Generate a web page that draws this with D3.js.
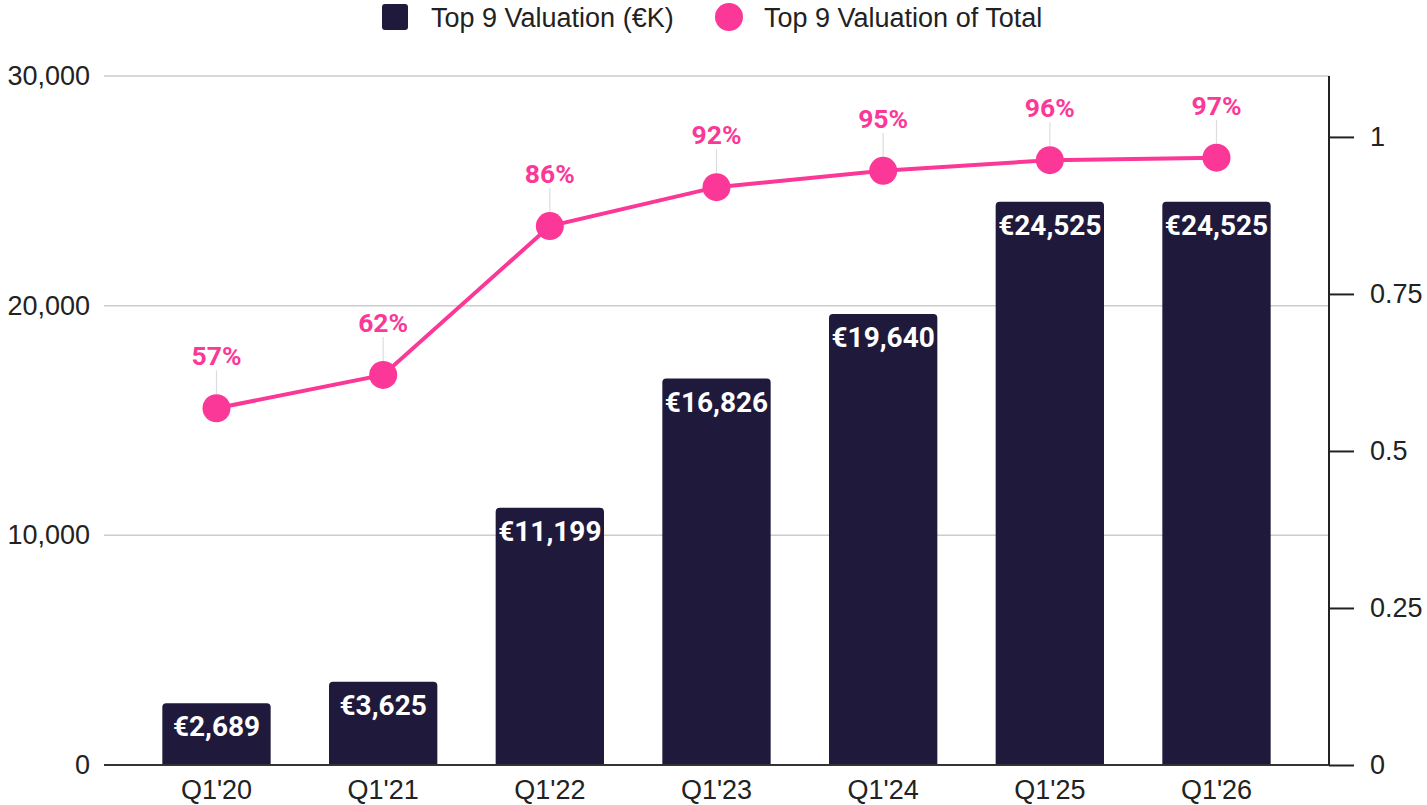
<!DOCTYPE html>
<html><head><meta charset="utf-8">
<script src="https://cdn.jsdelivr.net/npm/d3@7"></script>
<style>html,body{margin:0;padding:0;background:#fff;}svg{display:block;}</style>
</head><body>
<svg id="chart" width="1427" height="805"></svg>
<script>
const categories = ["Q1'20","Q1'21","Q1'22","Q1'23","Q1'24","Q1'25","Q1'26"];
const valuation = [2689, 3625, 11199, 16826, 19640, 24525, 24525];
const shareOfTotal = [0.568, 0.621, 0.858, 0.920, 0.946, 0.963, 0.967];
const leftTicks = [0, 10000, 20000, 30000];
const rightTicks = [0, 0.25, 0.5, 0.75, 1];
const seriesNames = ["Top 9 Valuation (€K)", "Top 9 Valuation of Total"];

const barColor = "#1f1a3b", pink = "#fb3897";
const axisFont = "'Liberation Sans', Arial, Helvetica, sans-serif";
const labelFont = "Roboto, 'Liberation Sans', Arial, sans-serif";

const svg = d3.select("#chart");
const L = 104, R = 1329, T = 76, B = 765;

const x = d3.scaleBand().domain(categories).range([L, R]).paddingInner(0.35).paddingOuter(0.35);
const y = d3.scaleLinear().domain([0, 30000]).range([B, T]);
const y2 = d3.scaleLinear().domain([0, 1.097]).range([B, T]);

// gridlines
svg.append("g").selectAll("line").data(leftTicks.filter(d => d > 0)).join("line")
  .attr("x1", L).attr("x2", R).attr("y1", d => y(d)).attr("y2", d => y(d))
  .attr("stroke", "#cccccc").attr("stroke-width", 1.5);

// left axis labels
const yAxis = d3.axisLeft(y).tickValues(leftTicks).tickFormat(d3.format(",")).tickSize(0).tickPadding(14);
const gy = svg.append("g").attr("transform", `translate(${L},0)`).call(yAxis);
gy.select(".domain").remove();
gy.selectAll("text").attr("font-family", axisFont).attr("font-size", 27).attr("fill", "#222");

// bars with rounded tops
const r = 4;
svg.append("g").selectAll("path").data(valuation).join("path")
  .attr("fill", barColor)
  .attr("d", (d, i) => {
    const x0 = x(categories[i]), w = x.bandwidth(), y0 = y(d), yb = y(0);
    return `M${x0},${yb}V${y0 + r}Q${x0},${y0} ${x0 + r},${y0}H${x0 + w - r}Q${x0 + w},${y0} ${x0 + w},${y0 + r}V${yb}Z`;
  });

// bar labels
svg.append("g").selectAll("text").data(valuation).join("text")
  .attr("x", (d, i) => x(categories[i]) + x.bandwidth() / 2)
  .attr("y", d => y(d) + 33)
  .attr("text-anchor", "middle")
  .attr("font-family", labelFont).attr("font-weight", 700).attr("font-size", 28)
  .attr("fill", "#fff")
  .text(d => "€" + d3.format(",")(d));

// baseline
svg.append("line").attr("x1", L).attr("x2", R).attr("y1", y(0)).attr("y2", y(0))
  .attr("stroke", "#333").attr("stroke-width", 2);

// right axis
const y2Axis = d3.axisRight(y2).tickValues(rightTicks).tickFormat(d => d3.format("")(d)).tickSize(25).tickPadding(16);
const gy2 = svg.append("g").attr("transform", `translate(${R},0)`).call(y2Axis);
gy2.select(".domain").attr("d", `M0,${T}V${B}`).attr("stroke", "#222").attr("stroke-width", 2);
gy2.selectAll(".tick line").attr("stroke", "#222").attr("stroke-width", 2);
gy2.selectAll("text").attr("font-family", axisFont).attr("font-size", 27).attr("fill", "#222");

// bottom axis labels
const xAxis = d3.axisBottom(x).tickSize(0).tickPadding(15);
const gx = svg.append("g").attr("transform", `translate(0,${B})`).call(xAxis);
gx.select(".domain").remove();
gx.selectAll("text").attr("font-family", axisFont).attr("font-size", 27).attr("fill", "#222");

// leader lines
const cx = (i) => x(categories[i]) + x.bandwidth() / 2;
svg.append("g").selectAll("line").data(shareOfTotal).join("line")
  .attr("x1", (d, i) => cx(i)).attr("x2", (d, i) => cx(i))
  .attr("y1", d => y2(d) - 38).attr("y2", d => y2(d) - 14)
  .attr("stroke", "#dddddd").attr("stroke-width", 1.2);

// line
const line = d3.line().x((d, i) => cx(i)).y(d => y2(d)).curve(d3.curveLinear);
svg.append("path").datum(shareOfTotal).attr("d", line)
  .attr("fill", "none").attr("stroke", pink).attr("stroke-width", 4);

svg.append("g").selectAll("circle").data(shareOfTotal).join("circle")
  .attr("cx", (d, i) => cx(i)).attr("cy", d => y2(d)).attr("r", 14)
  .attr("fill", pink);

// percent labels
svg.append("g").selectAll("text").data(shareOfTotal).join("text")
  .attr("x", (d, i) => cx(i)).attr("y", d => y2(d) - 43)
  .attr("text-anchor", "middle")
  .attr("font-family", labelFont).attr("font-weight", 700).attr("font-size", 26.5)
  .attr("fill", pink)
  .text(d => d3.format(".0%")(d));

// legend
const lg = svg.append("g");
lg.append("rect").attr("x", 382).attr("y", 4).attr("width", 26).attr("height", 26).attr("rx", 3).attr("fill", barColor);
lg.append("text").attr("x", 431).attr("y", 27).attr("font-family", axisFont).attr("font-size", 27).attr("fill", "#222").text(seriesNames[0]);
lg.append("circle").attr("cx", 729).attr("cy", 17).attr("r", 14).attr("fill", pink);
lg.append("text").attr("x", 764).attr("y", 27).attr("font-family", axisFont).attr("font-size", 27).attr("fill", "#222").text(seriesNames[1]);
</script>
</body></html>
